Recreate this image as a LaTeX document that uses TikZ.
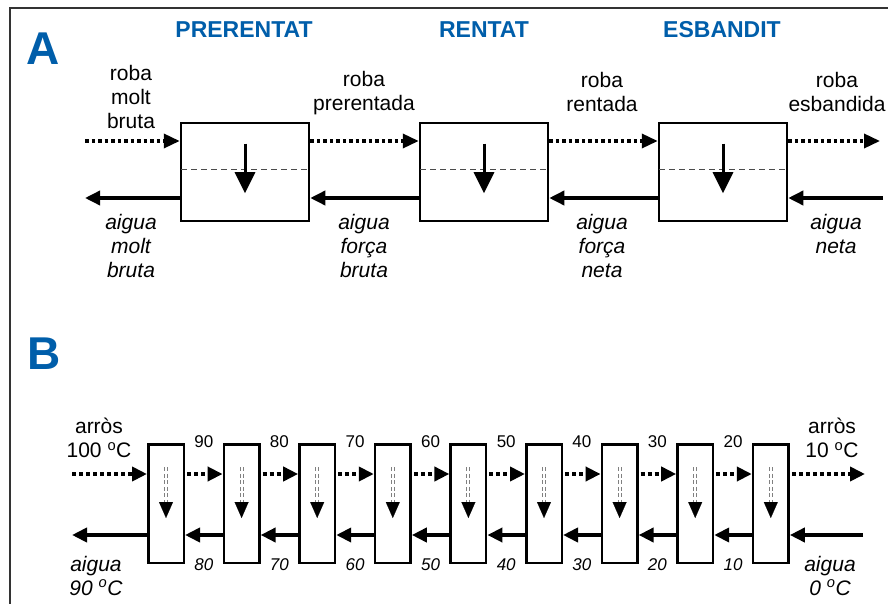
\documentclass[tikz,border=0pt]{standalone}
\usepackage{fontspec}
\setmainfont{Liberation Sans}
\usetikzlibrary{positioning,arrows.meta}
\definecolor{labblue}{RGB}{0,94,170}

\begin{document}
\begin{tikzpicture}[
x=1pt, y=-1pt,
node distance=108.5pt,
stage/.style={draw, line width=2.5pt, minimum width=128pt, minimum height=98pt, inner sep=0pt},
cell/.style={draw, line width=2.5pt, minimum width=35.5pt, minimum height=118.5pt, inner sep=0pt},
title/.style={inner sep=0pt, text=labblue, font=\fontsize{23}{26}\selectfont\bfseries},
letter/.style={inner sep=0pt, text=labblue, font=\fontsize{46}{50}\selectfont\bfseries},
lbl/.style={align=center, inner sep=0pt, font=\fontsize{21}{24}\selectfont},
wlbl/.style={align=center, inner sep=0pt, font=\fontsize{21}{24}\selectfont\itshape},
num/.style={inner sep=0pt, font=\fontsize{17}{20}\selectfont},
wnum/.style={inner sep=0pt, font=\fontsize{17}{20}\selectfont\itshape},
feed/.style={-{Triangle[length=16pt,width=14pt]}, line width=3.5pt, dash pattern=on 3.5pt off 3pt},
water/.style={-{Triangle[length=15pt,width=14pt]}, line width=3.5pt},
drop/.style={-{Triangle[length=21pt,width=20pt]}, line width=3pt},
level/.style={black!70, line width=0.9pt, dash pattern=on 6pt off 4pt, shorten <=1.25pt, shorten >=1.25pt},
bfeed/.style={-{Triangle[length=15pt,width=14pt]}, line width=4.5pt, dash pattern=on 4pt off 3pt},
bwater/.style={-{Triangle[length=15pt,width=14pt]}, line width=4pt},
bdrop/.style={black!50, line width=1pt, double=white, double distance=2pt, dash pattern=on 4pt off 2.5pt},
btip/.style={-{Triangle[length=16pt,width=14pt]}, line width=0.1pt}
]
\useasboundingbox (0,0) rectangle (888,604);
\draw[line width=1.2pt, black!80] (10,610) -- (10,8) -- (895,8);

% A: tres etapes
\node[letter] (la) at (43.5,49) {A};
\node[stage] (s1) at (245,172) {};
\node[stage, right=of s1] (s2) {};
\node[stage, right=of s2] (s3) {};
\node[title] (t1) at (244,30) {PRERENTAT};
\node[title] (t2) at (484,30) {RENTAT};
\node[title] (t3) at (722,30) {ESBANDIT};

\node[lbl] (r0) at (131,96.5) {roba\\molt\\bruta};
\node[lbl] (r1) at (364,93.5) {roba\\prerentada};
\node[lbl] (r2) at (602,91.5) {roba\\rentada};
\node[lbl] (r3) at (837,91.5) {roba\\esbandida};
\node[wlbl] (w0) at (131,245.5) {aigua\\molt\\bruta};
\node[wlbl] (w1) at (364,245.5) {aigua\\força\\bruta};
\node[wlbl] (w2) at (602,245.5) {aigua\\força\\neta};
\node[wlbl] (w3) at (836,233.5) {aigua\\neta};

\coordinate (ainL) at (85,141);
\coordinate (aoutR) at (880,141);
\coordinate (awL) at (85,198);
\coordinate (awR) at (883,198);

\draw[feed] (ainL) -- ([yshift=31pt]s1.west);
\draw[feed] ([yshift=31pt]s1.east) -- ([yshift=31pt]s2.west);
\draw[feed] ([yshift=31pt]s2.east) -- ([yshift=31pt]s3.west);
\draw[feed] ([yshift=31pt]s3.east) -- (aoutR);
\draw[water] (awR) -- ([yshift=-26pt]s3.east);
\draw[water] ([yshift=-26pt]s3.west) -- ([yshift=-26pt]s2.east);
\draw[water] ([yshift=-26pt]s2.west) -- ([yshift=-26pt]s1.east);
\draw[water] ([yshift=-26pt]s1.west) -- (awL);
\foreach \s in {s1,s2,s3} {
  \draw[level] ([yshift=3pt]\s.west) -- ([yshift=3pt]\s.east);
  \draw[drop] ([yshift=-22pt]\s.north) -- ([yshift=29pt]\s.south);
}

% B: nou cel.les en contracorrent
\node[letter] (lb) at (44,353.5) {B};
\node[cell] (c1) at (166,503.5) {};
\node[cell, right=37.6pt of c1] (c2) {};
\node[cell, right=37.6pt of c2] (c3) {};
\node[cell, right=37.6pt of c3] (c4) {};
\node[cell, right=37.6pt of c4] (c5) {};
\node[cell, right=37.6pt of c5] (c6) {};
\node[cell, right=37.6pt of c6] (c7) {};
\node[cell, right=37.6pt of c7] (c8) {};
\node[cell, right=37.6pt of c8] (c9) {};

\node[lbl] (rin) at (99,438) {arròs\\100 \textsuperscript{o}C};
\node[lbl] (rout) at (832,438) {arròs\\10 \textsuperscript{o}C};
\node[wlbl] (wout) at (96,575.5) {aigua\\90 \textsuperscript{o}C};
\node[wlbl] (win) at (830,575.5) {aigua\\0 \textsuperscript{o}C};

\coordinate (binL) at (72,474);
\coordinate (boutR) at (865,474);
\coordinate (bwL) at (72,535);
\coordinate (bwR) at (863,535);

\draw[bfeed] (binL) -- ([yshift=29.5pt]c1.west);
\draw[bfeed, shorten <=2pt] ([yshift=29.5pt]c9.east) -- (boutR);
\draw[bwater] (bwR) -- ([yshift=-31.5pt]c9.east);
\draw[bwater] ([yshift=-31.5pt]c1.west) -- (bwL);
\foreach \a/\b/\t/\w in {c1/c2/90/80, c2/c3/80/70, c3/c4/70/60, c4/c5/60/50,
                         c5/c6/50/40, c6/c7/40/30, c7/c8/30/20, c8/c9/20/10} {
  \draw[bfeed, shorten <=2pt] ([yshift=29.5pt]\a.east) -- ([yshift=29.5pt]\b.west);
  \draw[bwater] ([yshift=-31.5pt]\b.west) -- ([yshift=-31.5pt]\a.east);
  \path (\a.north east) -- (\b.north west) node[num, midway, yshift=1.5pt] (n\a) {\t};
  \path (\a.south east) -- (\b.south west) node[wnum, midway, yshift=-1pt] (m\a) {\w};
}
\foreach \c in {c1,c2,c3,c4,c5,c6,c7,c8,c9} {
  \draw[bdrop] ([yshift=-24pt]\c.north) -- ([yshift=62pt]\c.south);
  \draw[btip] ([yshift=62pt]\c.south) -- ([yshift=46pt]\c.south);
}
\end{tikzpicture}
\end{document}
